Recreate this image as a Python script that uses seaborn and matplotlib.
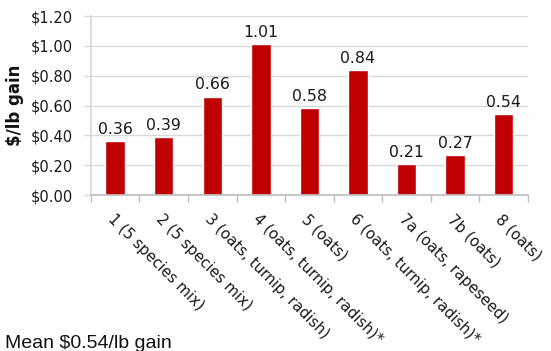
import matplotlib
matplotlib.use("Agg")
import matplotlib.pyplot as plt
import seaborn as sns
import pandas as pd

# Cost of gain per paddock / forage mix
categories = [
    "1 (5 species mix)",
    "2 (5 species mix)",
    "3 (oats, turnip, radish)",
    "4 (oats, turnip, radish)*",
    "5 (oats)",
    "6 (oats, turnip, radish)*",
    "7a (oats, rapeseed)",
    "7b (oats)",
    "8 (oats)",
]
cost_per_lb = [0.36, 0.39, 0.66, 1.01, 0.58, 0.84, 0.21, 0.27, 0.54]
y_ticks = [0.0, 0.2, 0.4, 0.6, 0.8, 1.0, 1.2]
y_tick_labels = ["$0.00", "$0.20", "$0.40", "$0.60", "$0.80", "$1.00", "$1.20"]
y_label = "$/lb gain"
footnote = "Mean $0.54/lb gain"

df = pd.DataFrame({"plot": categories, "cost": cost_per_lb})

sns.set_theme(style="white")
plt.rcParams["font.family"] = ["DejaVu Sans"]

fig = plt.figure(figsize=(5.51, 3.51), dpi=100)
ax = fig.add_axes([0.165, 0.4444, 0.793, 0.5100])

sns.barplot(data=df, x="plot", y="cost", color="#C00000", saturation=1,
            width=0.4, ax=ax)

ax.set_ylim(0, 1.2)
ax.set_xlim(-0.5, len(categories) - 0.5)
ax.set_yticks(y_ticks)
ax.set_yticklabels(y_tick_labels, fontsize=10.5, color="#1a1a1a")
ax.yaxis.grid(True, color="#d9d9d9", linewidth=1)
ax.set_axisbelow(True)

# x ticks sit between categories; labels are placed separately at centres
ax.set_xticks([i - 0.5 for i in range(len(categories) + 1)])
ax.set_xticklabels([])
ax.tick_params(axis="x", which="major", length=5, width=1, color="#bfbfbf",
               direction="out", bottom=True)
ax.tick_params(axis="y", which="major", length=5, width=1, color="#d9d9d9",
               direction="out", left=True, pad=8)

for side in ("top", "right"):
    ax.spines[side].set_visible(False)
ax.spines["left"].set_color("#d9d9d9")
ax.spines["bottom"].set_color("#bfbfbf")

ax.set_xlabel("")
ax.set_ylabel(y_label, fontsize=12, fontweight="bold", color="#111111")
ax.yaxis.set_label_coords(-0.153, 0.5)

# Category labels, rotated down to the right
for i, name in enumerate(categories):
    ax.annotate(name, xy=(i, 0), xycoords=("data", "axes fraction"),
                xytext=(0, -12), textcoords="offset points",
                rotation=-45, rotation_mode="anchor", ha="left", va="top",
                fontsize=10.8, color="#1a1a1a")

# Value labels above the bars
for i, v in enumerate(cost_per_lb):
    ax.annotate(f"{v:.2f}", xy=(i, v), xytext=(0, 3),
                textcoords="offset points", ha="center", va="bottom",
                fontsize=11.3, color="#1a1a1a")

fig.text(5 / 551, 1 - 348 / 351, footnote, fontsize=14,
         family=["Liberation Sans", "DejaVu Sans"], va="baseline",
         ha="left", color="#111111")

fig.savefig("out.png", dpi=100)
